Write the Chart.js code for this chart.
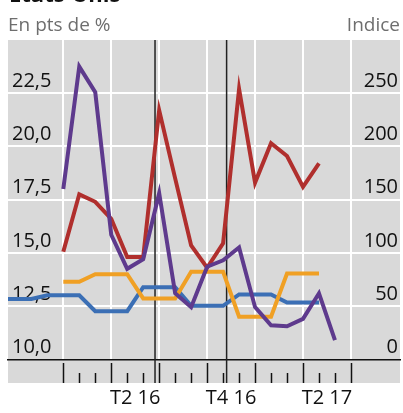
<!DOCTYPE html>
<html lang="fr">
<head>
<meta charset="UTF-8">
<title>Etats-Unis</title>
<script src="https://cdn.jsdelivr.net/npm/chart.js"></script>
<style>
    body {
        margin: 0;
        background: #ffffff;
        font-family: 'Open Sans', 'Noto Sans', sans-serif;
    }
    .wrap {
        position: relative;
        width: 403px;
        height: 413px;
        overflow: hidden;
    }
    canvas { position: absolute; left: 0; top: 0; z-index: 0; }
    .title {
        position: absolute;
        z-index: 2;
        left: 9px;
        top: -18px;
        font-size: 22px;
        line-height: 22px;
        font-weight: bold;
        color: #111;
    }
    .unit {
        position: absolute;
        z-index: 2;
        top: 13px;
        font-size: 19px;
        line-height: 22px;
        color: #6e6e6e;
    }
    .unit.left { left: 8px; }
    .unit.right { right: 3px; }
</style>
</head>
<body>
<div class="wrap">
    <canvas id="chart" width="403" height="413"></canvas>
    <div class="title">Etats-Unis</div>
    <div class="unit left">En pts de %</div>
    <div class="unit right">Indice</div>
</div>

<script>
    // months, end-of-month values (index 4 = déc. 15)
    const months = ['août 15', 'sept. 15', 'oct. 15', 'nov. 15', 'déc. 15',
        'janv. 16', 'févr. 16', 'mars 16', 'avr. 16', 'mai 16', 'juin 16',
        'juil. 16', 'août 16', 'sept. 16', 'oct. 16', 'nov. 16', 'déc. 16',
        'janv. 17', 'févr. 17', 'mars 17', 'avr. 17', 'mai 17'];

    // left axis (en pts de %)
    const blue = [12.83, 12.83, 12.83, 13.01, 13.01, 13.01, 12.26, 12.26, 12.26,
        13.39, 13.39, 13.39, 12.51, 12.51, 12.51, 13.05, 13.05, 13.05,
        12.67, 12.67, 12.67, null];
    const orange = [null, null, null, null, 13.64, 13.64, 14.0, 14.0, 14.0,
        12.86, 12.86, 12.86, 14.11, 14.11, 14.11, 12.0, 12.0, 12.0,
        14.03, 14.03, 14.03, null];

    // right axis (indice)
    const red = [null, null, null, null, 101, 155, 148, 132, 96, 96, 234, 170,
        107, 86, 109, 254, 166, 203, 191, 162, 184, null];
    const purple = [null, null, null, null, 160, 275, 251, 117, 85, 94, 156, 62,
        49, 87, 93, 105, 49, 32, 31, 38, 62, 18];

    const leftTicks = [10, 12.5, 15, 17.5, 20, 22.5, 25];
    const rightTicks = [0, 50, 100, 150, 200, 250, 300];
    const quarterLabels = { 8.5: 'T2 16', 14.5: 'T4 16', 20.5: 'T2 17' };
    const events = [9.74, 14.22]; // Brexit, élection US

    const toPoints = arr => arr.map((v, i) => ({ x: i, y: v }));

    const bgGray = '#d9d9d9';

    const decor = {
        id: 'decor',
        beforeDraw(chart) {
            const { ctx, chartArea: a } = chart;
            ctx.save();
            ctx.fillStyle = '#ffffff';
            ctx.fillRect(0, 0, chart.width, chart.height);
            ctx.fillStyle = bgGray;
            ctx.fillRect(a.left, a.top, a.right - a.left, 383 - a.top);
            ctx.restore();
        },
        beforeDatasetsDraw(chart) {
            const { ctx, chartArea: a, scales } = chart;
            ctx.save();
            ctx.strokeStyle = '#222';
            ctx.lineWidth = 1.5;
            events.forEach(e => {
                const px = scales.x.getPixelForValue(e);
                ctx.beginPath();
                ctx.moveTo(px, a.top);
                ctx.lineTo(px, 383);
                ctx.stroke();
            });
            ctx.restore();
        },
        afterDraw(chart) {
            const { ctx, scales } = chart;
            ctx.save();
            ctx.strokeStyle = '#111';
            ctx.lineWidth = 1.5;
            for (let i = 4; i <= 22; i++) {
                const px = Math.round(scales.x.getPixelForValue(i)) + 0.5;
                const major = (i - 4) % 3 === 0;
                ctx.beginPath();
                ctx.moveTo(px, major ? 363 : 373);
                ctx.lineTo(px, 383);
                ctx.stroke();
            }
            ctx.restore();
        }
    };

    const lineDs = (label, data, color, axis) => ({
        label: label,
        data: toPoints(data),
        yAxisID: axis,
        borderColor: color,
        borderWidth: 4,
        pointRadius: 0,
        fill: false,
        tension: 0,
        clip: 0,
        spanGaps: false
    });

    new Chart(document.getElementById('chart'), {
        type: 'line',
        data: {
            datasets: [
                lineDs('Violet', purple, '#5e3a8d', 'y1'),
                lineDs('Rouge', red, '#b02f2d', 'y1'),
                lineDs('Orange', orange, '#f0a024', 'y'),
                lineDs('Bleu', blue, '#3b6fb5', 'y')
            ]
        },
        plugins: [decor],
        options: {
            responsive: false,
            devicePixelRatio: 1,
            animation: false,
            layout: { padding: { left: 8, right: 3, top: 40, bottom: 0 } },
            plugins: { legend: { display: false }, tooltip: { enabled: false } },
            scales: {
                x: {
                    type: 'linear',
                    min: 0.54,
                    max: 25.07,
                    afterFit: s => { s.height = 53.7; },
                    afterBuildTicks: s => {
                        s.ticks = [4, 7, 8.5, 10, 13, 14.5, 16, 19, 20.5, 22].map(v => ({ value: v }));
                    },
                    grid: {
                        drawTicks: false,
                        lineWidth: 2,
                        color: c => ((c.tick.value - 4) % 3 === 0 ? '#ffffff' : 'rgba(0,0,0,0)')
                    },
                    border: { display: true, color: '#111', width: 1.5 },
                    ticks: {
                        autoSkip: false,
                        maxRotation: 0,
                        padding: 27,
                        color: '#111',
                        font: { family: "'Open Sans', sans-serif", size: 20 },
                        callback: v => quarterLabels[v] || ''
                    }
                },
                y: {
                    position: 'left',
                    min: 10,
                    max: 25,
                    afterFit: s => { s.width = 0; },
                    afterBuildTicks: s => { s.ticks = leftTicks.map(v => ({ value: v })); },
                    grid: {
                        drawTicks: false,
                        lineWidth: 2,
                        color: c => (c.tick.value === 10 || c.tick.value === 25 ? 'rgba(0,0,0,0)' : '#ffffff')
                    },
                    border: { display: false },
                    ticks: {
                        mirror: true,
                        padding: 4,
                        labelOffset: -12,
                        color: '#111',
                        font: { family: "'Open Sans', sans-serif", size: 20 },
                        callback: v => (v === 25 ? '' : v.toFixed(1).replace('.', ','))
                    }
                },
                y1: {
                    position: 'right',
                    min: 0,
                    max: 300,
                    afterFit: s => { s.width = 0; },
                    afterBuildTicks: s => { s.ticks = rightTicks.map(v => ({ value: v })); },
                    grid: { display: false, drawTicks: false },
                    border: { display: false },
                    ticks: {
                        mirror: true,
                        padding: -2,
                        labelOffset: -12,
                        color: '#111',
                        font: { family: "'Open Sans', sans-serif", size: 20 },
                        callback: v => (v === 300 ? '' : String(v))
                    }
                }
            }
        }
    });
</script>
</body>
</html>
